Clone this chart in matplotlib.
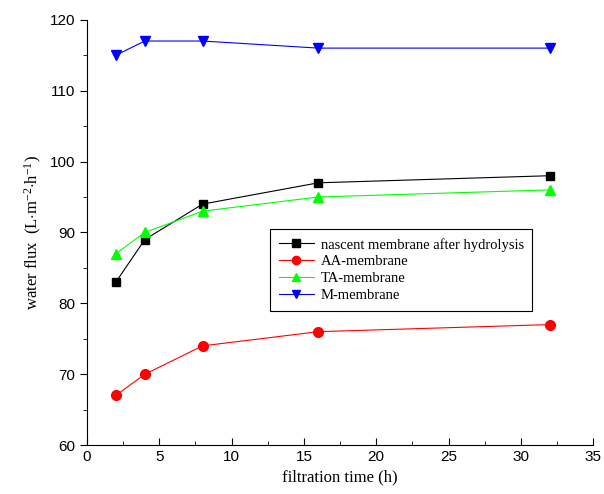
import matplotlib.pyplot as plt
from matplotlib.ticker import MultipleLocator

plt.rcParams['mathtext.fontset'] = 'custom'
plt.rcParams['mathtext.rm'] = 'Liberation Serif'
plt.rcParams['mathtext.it'] = 'Liberation Serif:italic'

# filtration time (h)
time = [2, 4, 8, 16, 32]

# water flux values
nascent = [83, 89, 94, 97, 98]
aa = [67, 70, 74, 76, 77]
ta = [87, 90, 93, 95, 96]
m = [115, 117, 117, 116, 116]

fig = plt.figure(figsize=(6.04, 4.94), dpi=100)
ax = fig.add_axes([0.144, 0.099, 0.838, 0.861])

ax.plot(time, nascent, color='black', marker='s', markersize=6, linewidth=0.8,
        label='nascent membrane after hydrolysis')
ax.plot(time, aa, color='red', marker='o', markersize=7, linewidth=0.8,
        label='AA-membrane')
ax.plot(time, ta, color='#00ff00', marker='^', markersize=7, linewidth=0.8,
        label='TA-membrane')
ax.plot(time, m, color='blue', marker='v', markersize=7, linewidth=0.8,
        label='M-membrane')

ax.set_xlim(0, 35)
ax.set_ylim(60, 120)
ax.xaxis.set_major_locator(MultipleLocator(5))
ax.xaxis.set_minor_locator(MultipleLocator(2.5))
ax.yaxis.set_major_locator(MultipleLocator(10))
ax.yaxis.set_minor_locator(MultipleLocator(5))

ax.spines['top'].set_visible(False)
ax.spines['right'].set_visible(False)
ax.tick_params(axis='x', which='both', direction='in')
ax.tick_params(axis='y', which='both', direction='out')
ax.tick_params(which='major', length=5)
ax.tick_params(which='minor', length=3)
for lab in ax.get_xticklabels() + ax.get_yticklabels():
    lab.set_family('Liberation Sans')
    lab.set_fontsize(11)

ax.set_xlabel('filtration time (h)', family='Liberation Serif', fontsize=12)
ax.set_ylabel(r'water flux  (L$\cdot$m$^{-2}$$\cdot$h$^{-1}$)',
              family='Liberation Serif', fontsize=12)

leg = ax.legend(loc='upper left', bbox_to_anchor=(0.362, 0.508),
                borderaxespad=0,
                prop={'family': 'Liberation Serif', 'size': 10.5},
                fancybox=False, edgecolor='black', framealpha=1,
                handlelength=2.4, handletextpad=0.45, markerscale=0.85,
                borderpad=0.6, labelspacing=0.25)
leg.get_frame().set_linewidth(0.8)

plt.savefig('out.png', dpi=100)
